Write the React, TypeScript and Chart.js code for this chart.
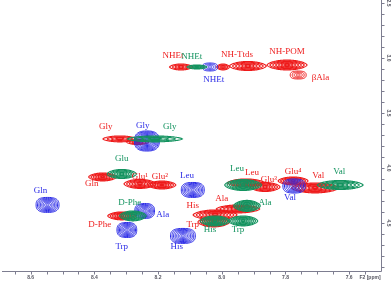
import React, { useEffect, useRef } from "react";
import { Chart, registerables } from "chart.js";

Chart.register(...registerables);

// ---- Peaks (F2 = x ppm, F1 = y ppm, half-widths in ppm) ----
const redPeakX = [8.128, 7.996, 7.918, 7.795, 7.760, 8.320, 8.264, 8.374, 8.257, 8.188, 8.314, 8.021, 8.025, 7.949, 7.924, 7.864, 7.776, 7.707];
const redPeakY = [3.082, 3.082, 3.073, 3.064, 3.155, 3.736, 3.764, 4.082, 4.145, 4.155, 4.436, 4.427, 4.491, 4.373, 4.136, 4.173, 4.118, 4.182];
const redPeakWx = [0.036, 0.020, 0.058, 0.063, 0.025, 0.053, 0.035, 0.044, 0.050, 0.044, 0.044, 0.069, 0.050, 0.068, 0.058, 0.047, 0.047, 0.074];
const redPeakWy = [0.027, 0.027, 0.041, 0.045, 0.036, 0.027, 0.023, 0.036, 0.041, 0.036, 0.036, 0.045, 0.045, 0.036, 0.036, 0.041, 0.036, 0.045];
const redPeakRound = [0, 0, 0, 0, 1, 0, 0, 0, 0, 0, 0, 0, 0, 0, 0, 0, 0, 0];

const greenPeakX = [8.078, 8.210, 8.314, 8.279, 7.933, 7.921, 8.021, 7.933, 7.628];
const greenPeakY = [3.082, 3.736, 4.055, 4.436, 4.155, 4.345, 4.482, 4.482, 4.155];
const greenPeakWx = [0.031, 0.086, 0.046, 0.042, 0.058, 0.042, 0.047, 0.046, 0.072];
const greenPeakWy = [0.018, 0.027, 0.041, 0.045, 0.050, 0.050, 0.045, 0.045, 0.041];

const bluePeakX = [8.037, 8.235, 8.547, 8.242, 8.298, 8.122, 8.091, 7.773];
const bluePeakY = [3.082, 3.755, 4.336, 4.391, 4.564, 4.618, 4.200, 4.164];
const bluePeakWx = [0.024, 0.039, 0.036, 0.031, 0.031, 0.039, 0.036, 0.035];
const bluePeakWy = [0.036, 0.091, 0.068, 0.068, 0.068, 0.068, 0.068, 0.064];

// ---- Assignment labels ----
const redLabels = ["NHEt", "NH-Ttds", "NH-POM", "βAla", "Gly", "Gln", "Glu¹", "Glu²", "D-Phe", "His", "Trp", "Ala", "Leu", "Glu³", "Glu⁴", "Val"];
const redLabelX = [8.153, 7.952, 7.795, 7.690, 8.364, 8.408, 8.257, 8.194, 8.383, 8.091, 8.091, 8.000, 7.905, 7.852, 7.776, 7.697];
const redLabelY = [2.982, 2.973, 2.945, 3.182, 3.627, 4.145, 4.082, 4.082, 4.518, 4.345, 4.518, 4.282, 4.045, 4.109, 4.036, 4.073];

const greenLabels = ["NHEt", "Gly", "Glu", "D-Phe", "Leu", "Ala", "His", "Trp", "Val"];
const greenLabelX = [8.094, 8.163, 8.314, 8.289, 7.952, 7.864, 8.037, 7.949, 7.631];
const greenLabelY = [2.991, 3.627, 3.918, 4.318, 4.009, 4.318, 4.564, 4.564, 4.036];

const blueLabels = ["NHEt", "Gly", "Gln", "Ala", "Trp", "His", "Leu", "Val"];
const blueLabelX = [8.025, 8.248, 8.569, 8.185, 8.314, 8.141, 8.109, 7.786];
const blueLabelY = [3.200, 3.618, 4.209, 4.427, 4.718, 4.718, 4.073, 4.273];

// ---- Axes ----
const xMajorTicks = [8.6, 8.4, 8.2, 8.0, 7.8, 7.6];
const xMinorTicks = [8.65, 8.55, 8.5, 8.45, 8.35, 8.3, 8.25, 8.15, 8.1, 8.05, 7.95, 7.9, 7.85, 7.75, 7.7, 7.65, 7.55];
const yMajorTicks = [2.5, 3.0, 3.5, 4.0, 4.5];
const yMinorTicks = [2.6, 2.7, 2.8, 2.9, 3.1, 3.2, 3.3, 3.4, 3.6, 3.7, 3.8, 3.9, 4.1, 4.2, 4.3, 4.4, 4.6, 4.7, 4.8, 4.9];

const RED = "#ee1b1b";
const GREEN = "#13935f";
const BLUE = "#2b2be6";

function makePeaks(xs: number[], ys: number[], wx: number[], wy: number[], round: number[] | null) {
  return xs.map((x, i) => ({ x, y: ys[i], wx: wx[i], wy: wy[i], round: round ? round[i] : 0 }));
}

function peakPath(ctx: CanvasRenderingContext2D, cx: number, cy: number, rx: number, ry: number, round: boolean) {
  const N = 56;
  ctx.beginPath();
  if (round) {
    for (let j = 0; j <= N; j++) {
      const t = (j / N) * Math.PI * 2;
      const c = Math.cos(t), sn = Math.sin(t);
      const px = cx + rx * Math.sign(c) * Math.pow(Math.abs(c), 0.75);
      const py = cy + ry * Math.sign(sn) * Math.pow(Math.abs(sn), 0.75);
      if (j === 0) ctx.moveTo(px, py); else ctx.lineTo(px, py);
    }
  } else {
    for (let j = 0; j <= N; j++) {
      const t = -1 + (2 * j) / N;
      ctx[j === 0 ? "moveTo" : "lineTo"](cx + rx * t, cy - ry * Math.pow(1 - t * t, 0.65));
    }
    for (let j = N; j >= 0; j--) {
      const t = -1 + (2 * j) / N;
      ctx.lineTo(cx + rx * t, cy + ry * Math.pow(1 - t * t, 0.65));
    }
  }
  ctx.closePath();
}

function drawPeak(ctx: CanvasRenderingContext2D, cx: number, cy: number, rx: number, ry: number, color: string, round: boolean) {
  const n = Math.max(4, Math.round(ry / (round ? 0.95 : 0.7)));
  ctx.strokeStyle = color;
  ctx.lineWidth = round ? 1.0 : 1.1;
  for (let i = 0; i < n; i++) {
    const s = 1 - i / n;
    peakPath(ctx, cx, cy, rx * s, ry * s, round);
    ctx.stroke();
  }
}

const contourPlugin = {
  id: "contours",
  afterDatasetsDraw(chart: any) {
    const ctx = chart.ctx as CanvasRenderingContext2D;
    const xs = chart.scales.x;
    const ys = chart.scales.y;
    const area = chart.chartArea;
    ctx.save();
    ctx.beginPath();
    ctx.rect(area.left, area.top, area.right - area.left, area.bottom - area.top);
    ctx.clip();
    const order = [0, 2, 1];
    for (const di of order) {
      const ds = chart.data.datasets[di];
      for (const p of ds.data) {
        const cx = xs.getPixelForValue(p.x);
        const cy = ys.getPixelForValue(p.y);
        const rx = Math.abs(xs.getPixelForValue(p.x + p.wx) - cx);
        const ry = Math.abs(ys.getPixelForValue(p.y + p.wy) - cy);
        drawPeak(ctx, cx, cy, rx, ry, ds.borderColor, di === 2 || p.round === 1);
      }
    }
    ctx.restore();

    // labels
    ctx.save();
    ctx.font = '9px "Liberation Serif", "DejaVu Serif", serif';
    ctx.textAlign = "center";
    ctx.textBaseline = "middle";
    const groups: [string[], number[], number[], string][] = [
      [redLabels, redLabelX, redLabelY, RED],
      [greenLabels, greenLabelX, greenLabelY, GREEN],
      [blueLabels, blueLabelX, blueLabelY, BLUE],
    ];
    for (const [txt, lx, ly, col] of groups) {
      ctx.fillStyle = col;
      txt.forEach((t, i) => {
        ctx.fillText(t, xs.getPixelForValue(lx[i]), ys.getPixelForValue(ly[i]));
      });
    }
    ctx.restore();

    // axes
    const axisColor = "#7d7d90";
    ctx.save();
    ctx.strokeStyle = axisColor;
    ctx.lineWidth = 1;
    ctx.beginPath();
    ctx.moveTo(area.left, area.bottom + 0.5);
    ctx.lineTo(area.right + 0.5, area.bottom + 0.5);
    ctx.moveTo(area.right + 0.5, area.top);
    ctx.lineTo(area.right + 0.5, area.bottom + 0.5);
    for (const v of [...xMajorTicks, ...xMinorTicks]) {
      const px = Math.round(xs.getPixelForValue(v)) + 0.5;
      ctx.moveTo(px, area.bottom);
      ctx.lineTo(px, area.bottom + 3.5);
    }
    for (const v of [...yMajorTicks, ...yMinorTicks]) {
      const py = Math.round(ys.getPixelForValue(v)) + 0.5;
      ctx.moveTo(area.right, py);
      ctx.lineTo(area.right + 3.5, py);
    }
    ctx.stroke();
    ctx.fillStyle = "#555560";
    ctx.font = 'bold 5px "Liberation Sans", Arial, sans-serif';
    ctx.textAlign = "center";
    ctx.textBaseline = "top";
    for (const v of xMajorTicks) {
      ctx.fillText(v.toFixed(1), xs.getPixelForValue(v), area.bottom + 4);
    }
    ctx.fillText("F2 [ppm]", area.right - 11, area.bottom + 4);
    for (const v of yMajorTicks) {
      const py = ys.getPixelForValue(v);
      ctx.save();
      ctx.translate(area.right + 5, py);
      ctx.rotate(Math.PI / 2);
      ctx.textBaseline = "bottom";
      ctx.fillText(v.toFixed(1), 0, 0);
      ctx.restore();
    }
    ctx.restore();
  },
};

export default function App() {
  const canvasRef = useRef<HTMLCanvasElement | null>(null);

  useEffect(() => {
    document.body.style.margin = "0";
    const canvas = canvasRef.current;
    if (!canvas) return;
    const chart = new Chart(canvas, {
      type: "scatter",
      data: {
        datasets: [
          { label: "red", data: makePeaks(redPeakX, redPeakY, redPeakWx, redPeakWy, redPeakRound) as any, borderColor: RED, backgroundColor: RED, pointRadius: 0 },
          { label: "green", data: makePeaks(greenPeakX, greenPeakY, greenPeakWx, greenPeakWy, null) as any, borderColor: GREEN, backgroundColor: GREEN, pointRadius: 0 },
          { label: "blue", data: makePeaks(bluePeakX, bluePeakY, bluePeakWx, bluePeakWy, null) as any, borderColor: BLUE, backgroundColor: BLUE, pointRadius: 0 },
        ],
      },
      options: {
        animation: false,
        responsive: false,
        devicePixelRatio: 1,
        layout: { padding: { left: 2, right: 11, top: 0, bottom: 10 } },
        plugins: { legend: { display: false }, tooltip: { enabled: false } },
        events: [],
        scales: {
          x: { type: "linear", reverse: true, min: 7.5, max: 8.69, display: false },
          y: { type: "linear", reverse: true, min: 2.473, max: 4.937, display: false },
        },
      },
      plugins: [contourPlugin],
    });
    return () => chart.destroy();
  }, []);

  return (
    <div style={{ position: "absolute", left: 0, top: 0, width: 392, height: 281, background: "#fff" }}>
      <canvas ref={canvasRef} width={392} height={281} style={{ display: "block" }} />
    </div>
  );
}
